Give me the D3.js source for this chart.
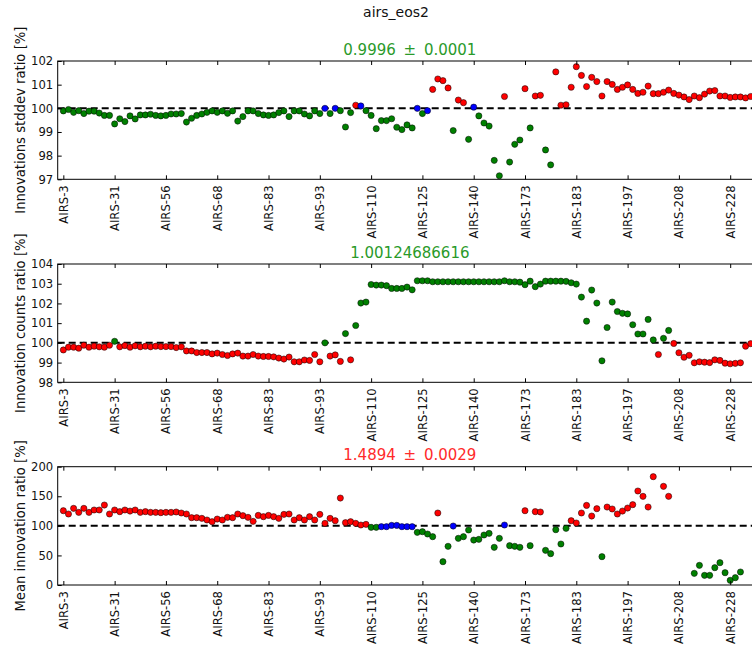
<!DOCTYPE html>
<html>
<head>
<meta charset="utf-8">
<title>airs_eos2</title>
<script src="https://d3js.org/d3.v7.min.js"></script>
<style>
    body { margin: 0; background: #fff; }
    svg text { font-family: "DejaVu Sans", sans-serif; }
</style>
</head>
<body>
<div id="chart"></div>

<script type="text/javascript">

    // channel labels shown on the x axis (one every 10 channels)
    const tickLabels = ["AIRS-3", "AIRS-31", "AIRS-56", "AIRS-68", "AIRS-83", "AIRS-93", "AIRS-110",
                        "AIRS-125", "AIRS-140", "AIRS-173", "AIRS-183", "AIRS-197", "AIRS-208", "AIRS-228"];
    const tickIndex = [0, 10, 20, 30, 40, 50, 60, 70, 80, 90, 100, 110, 120, 130];

    // innovations stddev ratio [%]
    const stddevRatio = [
        99.89, 99.95, 99.83, 99.9, 99.78, 99.88, 99.88, 99.8, 99.7, 99.7,
        99.34, 99.56, 99.44, 99.68, 99.55, 99.72, 99.72, 99.75, 99.7, 99.68,
        99.7, 99.76, 99.76, 99.78, 99.42, 99.58, 99.7, 99.76, 99.83, 99.89,
        99.83, 99.89, 99.79, 99.89, 99.46, 99.65, 99.89, 99.89, 99.78, 99.72,
        99.7, 99.72, 99.82, 99.89, 99.65, 99.89, 99.89, 99.76, 99.68, 99.89,
        99.78, 100.0, 99.78, 100.0, 99.9, 99.21, 99.82, 100.13, 100.1, 99.9,
        99.7, 99.14, 99.48, 99.48, 99.56, 99.2, 99.1, 99.3, 99.17, 100.0,
        99.78, 99.9, 100.8, 101.24, 101.17, 100.86, 99.06, 100.35, 100.24, 98.69,
        100.05, 99.68, 99.38, 99.25, 97.8, 97.15, 100.5, 97.73, 98.48, 98.66,
        100.83, 99.17, 100.52, 100.55, 98.24, 97.61, 101.54, 100.13, 100.15, 100.89,
        101.76, 101.39, 100.92, 101.31, 101.13, 100.52, 101.13, 101.01, 100.8, 100.89,
        100.99, 100.8, 100.63, 100.68, 100.94, 100.62, 100.62, 100.68, 100.77, 100.63,
        100.56, 100.48, 100.37, 100.52, 100.45, 100.6, 100.73, 100.75, 100.52, 100.52,
        100.46, 100.48, 100.48, 100.44, 100.5
    ];
    // g = better, r = worse, b = not significant
    const stddevFlag = ("gggggggggg gggggggggg gggggggggg gggggggggg gggggggggg " +
                        "gbgbgggrbg gggggggggb gbrrrrgrrg bgggggrggg rgrrggrrrr " +
                        "rrrrrrrrrr rrrrrrrrrr rrrrrrrrrr rrrrr").replace(/ /g, "");

    // innovation counts ratio [%]
    const countsRatio = [
        99.64, 99.78, 99.78, 99.73, 99.88, 99.78, 99.83, 99.8, 99.78, 99.88,
        100.08, 99.8, 99.86, 99.78, 99.85, 99.8, 99.83, 99.8, 99.83, 99.81,
        99.81, 99.81, 99.76, 99.8, 99.59, 99.59, 99.51, 99.51, 99.51, 99.44,
        99.48, 99.41, 99.36, 99.44, 99.48, 99.33, 99.33, 99.41, 99.33, 99.31,
        99.31, 99.29, 99.23, 99.18, 99.28, 99.04, 99.04, 99.13, 99.11, 99.41,
        99.04, 100.0, 99.33, 99.39, 99.06, 100.47, 99.14, 100.88, 102.02, 102.07,
        102.96, 102.93, 102.93, 102.9, 102.76, 102.76, 102.76, 102.83, 102.69, 103.15,
        103.15, 103.15, 103.1, 103.1, 103.1, 103.1, 103.1, 103.1, 103.1, 103.1,
        103.1, 103.1, 103.1, 103.1, 103.1, 103.1, 103.15, 103.1, 103.1, 103.08,
        102.95, 103.13, 102.85, 102.98, 103.13, 103.13, 103.13, 103.13, 103.12, 103.05,
        102.98, 102.32, 101.1, 102.68, 102.02, 99.09, 100.78, 102.07, 101.59, 101.5,
        101.47, 100.92, 100.45, 100.45, 101.19, 100.15, 99.41, 100.23, 100.63, 99.97,
        99.5, 99.27, 99.37, 98.99, 99.04, 99.02, 99.0, 99.14, 99.11, 98.97,
        98.94, 98.96, 98.99, 99.83, 99.96
    ];
    const countsFlag = ("rrrrrrrrrr grrrrrrrrr rrrrrrrrrr rrrrrrrrrr rrrrrrrrrr " +
                        "rgrrrgrggg gggggggggg gggggggggg gggggggggg gggggggggg " +
                        "gggggggggg ggggggrggr rrrrrrrrrr rrrrr").replace(/ /g, "");

    // mean innovation ratio [%] (null = no value)
    const meanRatio = [
        125.6, 120, 129.6, 122.8, 129.6, 122.8, 126.8, 126.8, 135.2, 120,
        126.8, 124, 126.8, 125, 126.8, 122.8, 124, 122.8, 122.8, 122.3,
        122.8, 122.8, 123.4, 121.7, 120, 113.8, 113.8, 112.7, 109.9, 107,
        111.5, 109.9, 114.4, 113.8, 120, 117.2, 114.4, 107.6, 117.7, 115.5,
        117.7, 115.5, 112.7, 119.4, 120, 109.9, 113.8, 109.9, 115.5, 109.9,
        119.4, 104.2, 112.7, 108.7, 147, 105.4, 107, 104.2, 101.4, 102.5,
        97.5, 97.5, 98.6, 98.6, 100.8, 100.8, 98.6, 98.6, 98.6, 89,
        90.1, 86.2, 81.7, 121.7, 39.4, 65.4, 99.7, 78.9, 81.7, 93,
        76, 77.2, 84.5, 87.3, 63.7, 78.9, 101.4, 66.5, 65.4, 63.7,
        125.6, 66.5, 124, 123.4, 58.6, 53, 93.5, 69.3, 95.8, 108.7,
        104.8, 121.7, 134.6, 116.6, 129, 47.9, 131.8, 128.5, 120, 125,
        130.1, 135.8, 158.9, 149.9, 131.8, 183.1, null, 166.8, 149.9, null,
        null, null, null, 19.7, 33.2, 16.3, 16.3, 29.3, 37.7, 20.8,
        7.9, 12.4, 22, null, null
    ];
    const meanFlag = ("rrrrrrrrrr rrrrrrrrrr rrrrrrrrrr rrrrrrrrrr rrrrrrrrrr " +
                      "rrrrrrrrrr ggbbbbbbbg gggrggbggg ggggggbggg rgrrgggggr " +
                      "rrrrrgrrrr rrrrrrrrrr gggggggggg ggggg").replace(/ /g, "");

    const yLabels = ["Innovations stddev ratio [%]", "Innovation counts ratio [%]", "Mean innovation ratio [%]"];
    const summaries = ["0.9996 \u2009\u00b1\u2009 0.0001", "1.00124686616", "1.4894 \u2009\u00b1\u2009 0.0029"];
    const summaryColors = ["#2a9a2a", "#2a9a2a", "#ff2a2a"];
    const yDomains = [[97, 102], [98, 104], [0, 200]];
    const yTicks = [[97, 98, 99, 100, 101, 102], [98, 99, 100, 101, 102, 103, 104], [0, 50, 100, 150, 200]];

    const flagColor = {g: "#008000", r: "#ff0000", b: "#0000ff"};

    function render() {
        let W = 752, H = 648;
        let left = 57.7, right = 762;
        let tops = [61, 264, 466.7];
        let h = 118.3;

        let svg = d3.select("#chart")
            .append("svg")
                .attr("width", W)
                .attr("height", H)
                .style("display", "block");

        svg.append("rect").attr("width", W).attr("height", H).attr("fill", "#fff");

        svg.append("text")
            .attr("x", 396)
            .attr("y", 16.5)
            .attr("text-anchor", "middle")
            .attr("font-size", "14px")
            .attr("fill", "#111")
            .text("airs_eos2");

        let x_scale = d3.scaleLinear()
                        .domain([-1.1, 136.2])
                        .range([left, right]);

        let panels = [
            {values: stddevRatio, flags: stddevFlag},
            {values: countsRatio, flags: countsFlag},
            {values: meanRatio, flags: meanFlag}
        ];

        panels.forEach((p, k) => {
            let g = svg.append("g").attr("transform", "translate(0," + tops[k] + ")");

            let y_scale = d3.scaleLinear()
                            .domain(yDomains[k])
                            .range([h, 0]);

            // reference line at 100 %
            g.append("line")
                .attr("x1", left).attr("x2", right)
                .attr("y1", y_scale(100)).attr("y2", y_scale(100))
                .attr("stroke", "#000")
                .attr("stroke-width", 2)
                .attr("stroke-dasharray", "7,4");

            let pts = p.values.map((v, i) => ({i: i, v: v, f: p.flags[i]}))
                              .filter(d => d.v !== null);

            g.selectAll("circle")
                .data(pts)
                .enter()
                .append("circle")
                .attr("cx", d => x_scale(d.i))
                .attr("cy", d => y_scale(d.v))
                .attr("r", 3.1)
                .attr("fill", d => flagColor[d.f])
                .attr("stroke", "#000")
                .attr("stroke-width", 0.5);

            // y axis, ticks pointing inward
            let y_axis = d3.axisLeft(y_scale)
                            .tickValues(yTicks[k])
                            .tickFormat(d3.format("d"))
                            .tickSizeInner(-4)
                            .tickSizeOuter(0)
                            .tickPadding(4.5);
            let ya = g.append("g")
                .attr("transform", "translate(" + left + ",0)")
                .call(y_axis);
            ya.select(".domain").remove();
            ya.selectAll("text").attr("font-size", "11.6px").attr("fill", "#111");

            // bottom x axis with rotated channel names
            let x_axis = d3.axisBottom(x_scale)
                            .tickValues(tickIndex)
                            .tickFormat((d, i) => tickLabels[i])
                            .tickSizeInner(-4)
                            .tickSizeOuter(0);
            let xa = g.append("g")
                .attr("transform", "translate(0," + h + ")")
                .call(x_axis);
            xa.select(".domain").remove();
            xa.selectAll("text")
                .attr("transform", "rotate(-90)")
                .attr("x", -6)
                .attr("y", 0)
                .attr("dy", "0.35em")
                .attr("text-anchor", "end")
                .attr("font-size", "11.6px")
                .attr("fill", "#111");

            // top ticks
            let xt = g.append("g")
                .call(d3.axisTop(x_scale).tickValues(tickIndex).tickFormat("").tickSizeInner(-4).tickSizeOuter(0));
            xt.select(".domain").remove();

            // frame
            g.append("rect")
                .attr("x", left)
                .attr("y", 0)
                .attr("width", right - left)
                .attr("height", h)
                .attr("fill", "none")
                .attr("stroke", "#000")
                .attr("stroke-width", 1);

            g.append("text")
                .attr("x", (left + right) / 2)
                .attr("y", -6.5)
                .attr("text-anchor", "middle")
                .attr("font-size", "15px")
                .attr("fill", summaryColors[k])
                .text(summaries[k]);

            g.append("text")
                .attr("transform", "translate(24.5," + (h / 2) + ") rotate(-90)")
                .attr("text-anchor", "middle")
                .attr("font-size", "13.2px")
                .attr("fill", "#111")
                .text(yLabels[k]);
        });
    }

    render();
</script>
</body>
</html>
